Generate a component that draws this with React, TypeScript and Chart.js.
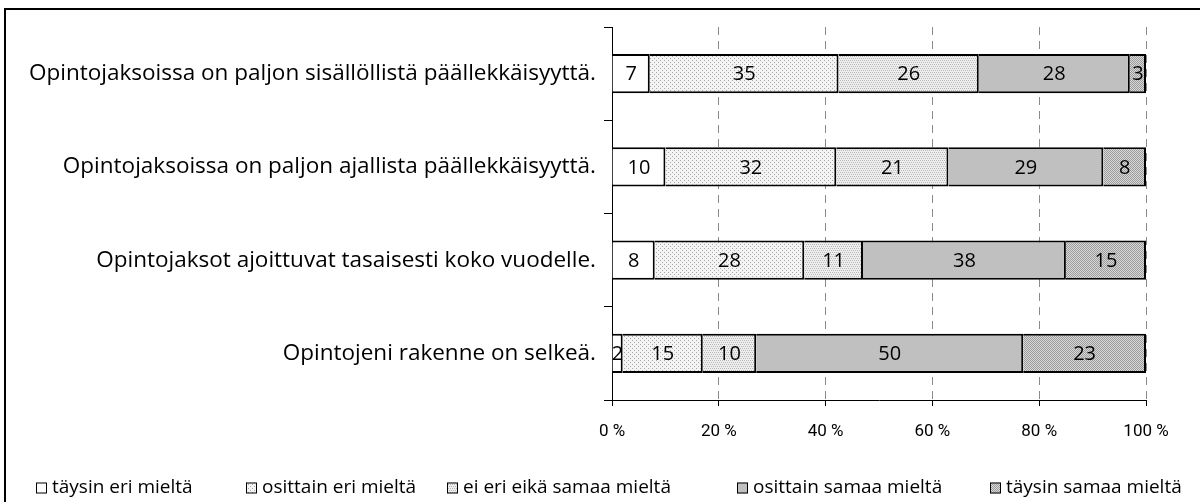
import React, { useEffect, useRef } from "react";
import { Chart, registerables } from "chart.js";

Chart.register(...registerables);

const CATEGORIES = [
  "Opintojaksoissa on paljon sisällöllistä päällekkäisyyttä.",
  "Opintojaksoissa on paljon ajallista päällekkäisyyttä.",
  "Opintojaksot ajoittuvat tasaisesti koko vuodelle.",
  "Opintojeni rakenne on selkeä.",
];

const SERIES_NAMES = [
  "täysin eri mieltä",
  "osittain eri mieltä",
  "ei eri eikä samaa mieltä",
  "osittain samaa mieltä",
  "täysin samaa mieltä",
];

const TAYSIN_ERI = [7, 10, 8, 2];
const OSITTAIN_ERI = [35, 32, 28, 15];
const EI_ERI_EIKA_SAMAA = [26, 21, 11, 10];
const OSITTAIN_SAMAA = [28, 29, 38, 50];
const TAYSIN_SAMAA = [3, 8, 15, 23];

const X_TICK_STEP = 20;
const X_MAX = 100;

const LABEL_FONT = "Open Sans";
const TICK_FONT = "Roboto";

// legend item left edges (layout)
const LEGEND_X = [36, 246, 447, 737, 990];

function makePattern(bg: string, fg: string, dots: [number, number][], size = 4): CanvasPattern | string {
  const c = document.createElement("canvas");
  c.width = size;
  c.height = size;
  const g = c.getContext("2d")!;
  g.fillStyle = bg;
  g.fillRect(0, 0, size, size);
  g.fillStyle = fg;
  dots.forEach(([x, y]) => g.fillRect(x, y, 1, 1));
  const p = g.createPattern(c, "repeat");
  return p || bg;
}

export default function App() {
  const ref = useRef<HTMLCanvasElement | null>(null);

  useEffect(() => {
    if (!ref.current) return;
    const series = [TAYSIN_ERI, OSITTAIN_ERI, EI_ERI_EIKA_SAMAA, OSITTAIN_SAMAA, TAYSIN_SAMAA];
    const totals = CATEGORIES.map((_, i) => series.reduce((s, arr) => s + arr[i], 0));

    const checker: [number, number][] = [[0, 0], [2, 0], [1, 1], [3, 1], [0, 2], [2, 2], [1, 3], [3, 3]];
    const fills = [
      "#ffffff",
      makePattern("#f4f4f4", "#a8a8a8", [[0, 0], [2, 2]]),
      makePattern("#eeeeee", "#b8b8b8", [[0, 0], [2, 0], [1, 2], [3, 2]]),
      "#c0c0c0",
      makePattern("#d8d8d8", "#9c9c9c", checker),
    ];

    const datasets = series.map((arr, si) => ({
      label: SERIES_NAMES[si],
      data: arr.map((v, i) => (v / totals[i]) * 100),
      rawValues: arr,
      backgroundColor: fills[si] as any,
      borderColor: "#000000",
      borderWidth: 2,
      barPercentage: 0.42,
      categoryPercentage: 1,
    }));

    const valueLabels = {
      id: "valueLabels",
      afterDatasetsDraw(chart: any) {
        const ctx = chart.ctx;
        ctx.save();
        ctx.font = `20px "${LABEL_FONT}"`;
        ctx.fillStyle = "#000";
        ctx.textAlign = "center";
        ctx.textBaseline = "middle";
        chart.data.datasets.forEach((ds: any, di: number) => {
          const meta = chart.getDatasetMeta(di);
          meta.data.forEach((bar: any, j: number) => {
            const p = bar.getProps(["x", "base", "y"], true);
            ctx.fillText(String(ds.rawValues[j]), (p.x + p.base) / 2, p.y + 1);
          });
        });
        ctx.restore();
      },
    };

    const customLegend = {
      id: "customLegend",
      afterDraw(chart: any) {
        const ctx = chart.ctx;
        ctx.save();
        ctx.font = `19px "${LABEL_FONT}"`;
        ctx.textBaseline = "middle";
        ctx.textAlign = "left";
        const box = 11;
        const gapText = 5;
        const y = 488;
        SERIES_NAMES.forEach((n, i) => {
          const x = LEGEND_X[i];
          ctx.fillStyle = fills[i] as any;
          ctx.fillRect(x, y - box / 2, box, box);
          ctx.strokeStyle = "#000";
          ctx.lineWidth = 1;
          ctx.strokeRect(x + 0.5, y - box / 2 + 0.5, box - 1, box - 1);
          ctx.fillStyle = "#000";
          ctx.fillText(n, x + box + gapText, y);
        });
        ctx.restore();
      },
    };

    const chart = new Chart(ref.current, {
      type: "bar",
      data: { labels: CATEGORIES, datasets: datasets as any },
      options: {
        indexAxis: "y",
        animation: false,
        responsive: false,
        maintainAspectRatio: false,
        layout: { padding: { top: 27, right: 54, bottom: 42, left: 0 } },
        plugins: { legend: { display: false }, tooltip: { enabled: false } },
        scales: {
          x: {
            stacked: true,
            min: 0,
            max: X_MAX,
            ticks: {
              stepSize: X_TICK_STEP,
              callback: (v: any) => `${v} %`,
              font: { family: TICK_FONT, size: 17 },
              color: "#000",
              padding: 16,
              maxRotation: 0,
            },
            grid: {
              color: (c: any) => (c.tick && c.tick.value === 0 ? "rgba(0,0,0,0)" : "#8a8a8a"),
              lineWidth: 1,
              tickColor: "#000",
              tickLength: 6,
              drawTicks: true,
            },
            border: { display: true, color: "#000", width: 1, dash: [8, 6] },
            afterFit: (s: any) => {
              s.height = 60;
            },
          },
          y: {
            stacked: true,
            ticks: {
              font: { family: LABEL_FONT, size: 22.5 },
              color: "#000",
              padding: 8,
            },
            grid: {
              offset: true,
              drawOnChartArea: false,
              color: "#000",
              tickLength: 8,
            },
            border: { display: true, color: "#000", width: 1 },
            afterFit: (s: any) => {
              s.width = 612;
            },
          },
        },
      },
      plugins: [valueLabels, customLegend],
    });
    return () => chart.destroy();
  }, []);

  return (
    <div style={{ position: "fixed", left: 0, top: 0, width: 1200, height: 502, overflow: "hidden", background: "#fff" }}>
      <div
        style={{
          position: "absolute",
          left: 4,
          top: 8,
          width: 1300,
          height: 600,
          borderLeft: "2px solid #000",
          borderTop: "2px solid #000",
        }}
      />
      <canvas ref={ref} width={1200} height={502} style={{ position: "absolute", left: 0, top: 0 }} />
    </div>
  );
}
